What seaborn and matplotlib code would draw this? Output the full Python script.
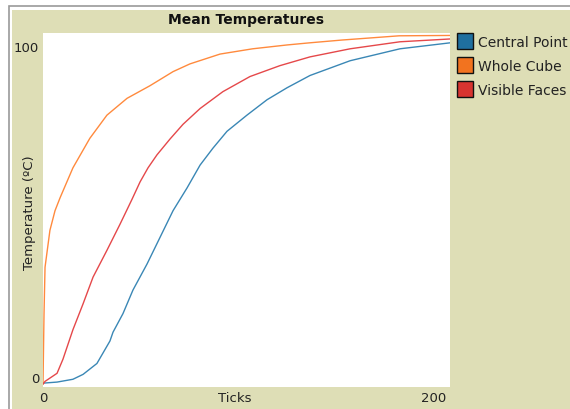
import pandas as pd
import numpy as np
import matplotlib
matplotlib.use("Agg")
import matplotlib.pyplot as plt
from matplotlib.patches import Rectangle
import seaborn as sns

# Valores (ticks x temperatura média)
central_ticks = [0, 6.9, 14.7, 19.7, 26.5, 32.9, 34.4, 39.3, 44.2, 51.1, 57.5, 63.9, 70.8, 77.2,
                 83.5, 90.4, 100.2, 110.1, 119.9, 131.2, 150.9, 175.4, 200]
central_temp = [0.3, 0.6, 1.4, 2.8, 5.9, 12.3, 14.8, 20.1, 26.8, 34.2, 41.8, 49.4, 55.9, 62.4,
                67.2, 72.0, 76.6, 81.0, 84.4, 87.9, 92.1, 95.5, 97.2]

cube_ticks = [0, 0.5, 1, 3.4, 5.9, 8.4, 14.7, 23, 31.4, 41.3, 52.6, 63.9, 72.2, 87, 103, 120,
              131, 147, 175, 200]
cube_temp = [0, 20, 33.3, 43.8, 49.4, 53.1, 61.6, 70, 76.6, 81.4, 85, 89, 91.2, 94, 95.5, 96.6,
             97.2, 98, 99.2, 99.3]

faces_ticks = [0, 1, 6.9, 9.8, 14.7, 19.7, 24.6, 31.4, 37.8, 43.7, 47.7, 51.6, 56, 62.4, 68.8,
               77.2, 88.4, 101.7, 116.4, 131.2, 150.9, 175.4, 200]
faces_temp = [0, 0.8, 3.1, 7.1, 15.5, 22.9, 30.5, 38.1, 45.5, 52.6, 57.6, 61.6, 65.3, 69.8, 74.0,
              78.5, 83.3, 87.6, 90.7, 93.2, 95.5, 97.5, 98.3]

series_names = ["Central Point", "Whole Cube", "Visible Faces"]
line_colors = ["#3a87b5", "#ff8a3d", "#e5484a"]
box_colors = ["#1f6f9f", "#f2731f", "#d83430"]

df = pd.concat([
    pd.DataFrame({"Ticks": central_ticks, "Temp": central_temp, "serie": series_names[0]}),
    pd.DataFrame({"Ticks": cube_ticks, "Temp": cube_temp, "serie": series_names[1]}),
    pd.DataFrame({"Ticks": faces_ticks, "Temp": faces_temp, "serie": series_names[2]}),
])

sns.set_style("white")
plt.rcParams["font.family"] = ["DejaVu Sans"]

W, H = 570, 410
def fx(px):
    return px / W
def fy(py):
    return 1 - py / H

fig = plt.figure(figsize=(5.7, 4.1), dpi=100)
fig.patch.set_facecolor("white")

beige = "#dedeb6"
fig.patches.append(Rectangle((fx(9), fy(430)), 1, fy(7) - fy(430), transform=fig.transFigure,
                             fill=False, edgecolor="#9a9a9a", lw=1.2, zorder=-10))
fig.patches.append(Rectangle((fx(12), fy(430)), 1, fy(11) - fy(430), transform=fig.transFigure,
                             facecolor=beige, edgecolor="none", zorder=-9))

ax = fig.add_axes([fx(43), fy(388), fx(450) - fx(43), fy(34) - fy(388)])
ax.set_facecolor("white")
sns.lineplot(data=df, x="Ticks", y="Temp", hue="serie", palette=line_colors,
             hue_order=series_names, estimator=None, legend=False, lw=1.0, ax=ax)
ax.set_xlim(0, 200)
ax.set_ylim(-0.8, 100)
ax.set_xticks([])
ax.set_yticks([])
ax.set_xlabel("")
ax.set_ylabel("")
for s in ax.spines.values():
    s.set_visible(False)

fs = 9.5
fig.text(fx(246), fy(20), "Mean Temperatures", ha="center", va="center",
         fontsize=10, fontweight="bold", color="#111111")
fig.text(fx(39), fy(48), "100", ha="right", va="center", fontsize=fs, color="#222222")
fig.text(fx(39), fy(380), "0", ha="right", va="center", fontsize=fs, color="#222222")
fig.text(fx(43), fy(399), "0", ha="center", va="center", fontsize=fs, color="#222222")
fig.text(fx(446), fy(399), "200", ha="right", va="center", fontsize=fs, color="#222222")
fig.text(fx(235), fy(399), "Ticks", ha="center", va="center", fontsize=fs, color="#222222")
fig.text(fx(30), fy(213), "Temperature (ºC)", ha="center", va="center", rotation=90,
         fontsize=fs, color="#222222")

# legenda
for i, (name, c) in enumerate(zip(series_names, box_colors)):
    top = 34 + 24 * i
    fig.patches.append(Rectangle((fx(457), fy(top + 16)), fx(16), fy(top) - fy(top + 16),
                                 transform=fig.transFigure, facecolor=c, edgecolor="#111111", lw=1))
    fig.text(fx(478), fy(top + 9), name, ha="left", va="center", fontsize=10, color="#222222")

fig.savefig("out.png", dpi=100)
